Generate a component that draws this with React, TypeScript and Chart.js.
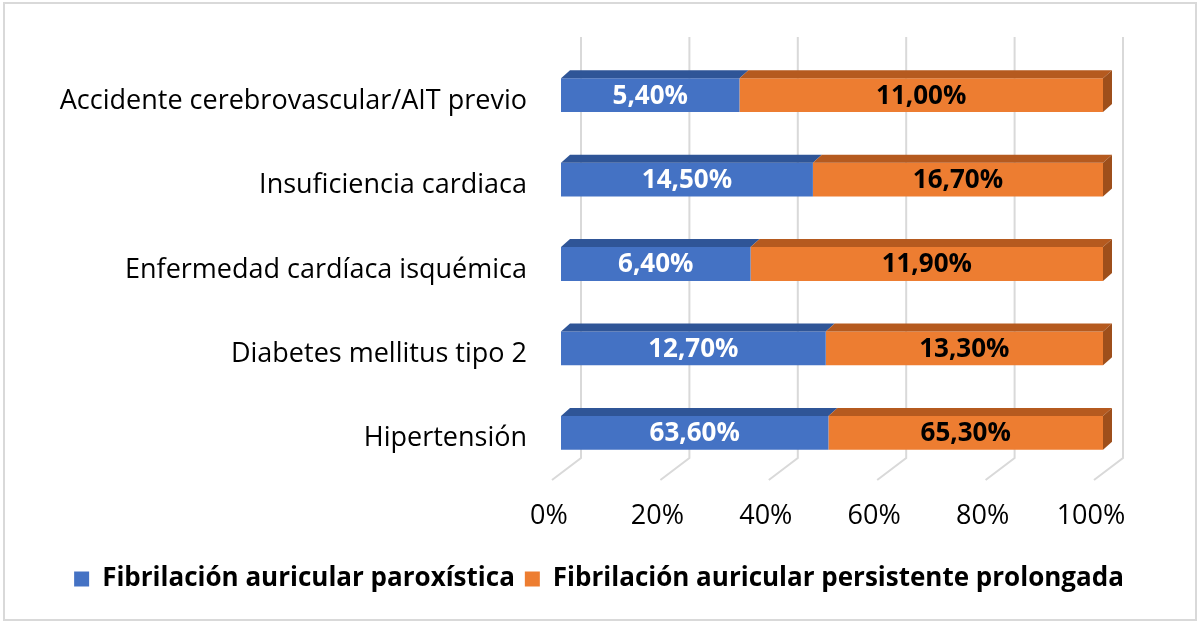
import React, { useEffect, useRef } from "react";
import { Chart, registerables } from "chart.js";

Chart.register(...registerables);

const categories = [
  "Accidente cerebrovascular/AIT previo",
  "Insuficiencia cardiaca",
  "Enfermedad cardíaca isquémica",
  "Diabetes mellitus tipo 2",
  "Hipertensión",
];
const seriesNames = [
  "Fibrilación auricular paroxística",
  "Fibrilación auricular persistente prolongada",
];
const paroxistica = [5.4, 14.5, 6.4, 12.7, 63.6];
const persistente = [11.0, 16.7, 11.9, 13.3, 65.3];
const xTickValues = [0, 20, 40, 60, 80, 100];

const FRONT_COLORS = ["#4472C4", "#ED7D31"];
const TOP_COLORS = ["#2F5597", "#B55A1F"];
const SIDE_COLOR = "#9E4F1B";
const LABEL_COLORS = ["#FFFFFF", "#000000"];
const FONT = "'Open Sans'";

const DX = 9;
const DY = 8;

const fmt = (v: number) => v.toFixed(2).replace(".", ",") + "%";

const share = (a: number[], b: number[], which: number) =>
  a.map((v, i) => ((which === 0 ? v : b[i]) / (v + b[i])) * 100);

const threeDPlugin = {
  id: "threeD",
  afterLayout(chart: any) {
    const lg = chart.legend;
    if (lg) {
      lg.left = 0;
      lg.right = 1198;
    }
  },
  beforeDatasetsDraw(chart: any) {
    const ctx = chart.ctx;
    const xs = chart.scales.x;
    const area = chart.chartArea;
    ctx.save();
    ctx.strokeStyle = "#D9D9D9";
    ctx.lineWidth = 2;
    xTickValues.forEach((v) => {
      const px = xs.getPixelForValue(v);
      const bx = px + 20;
      const topY = area.top - 16;
      const botY = area.bottom - 17;
      ctx.beginPath();
      ctx.moveTo(bx, topY);
      ctx.lineTo(bx, botY);
      ctx.lineTo(px - 9, area.bottom + 5);
      ctx.stroke();
    });
    ctx.restore();
  },
  afterDatasetsDraw(chart: any) {
    const ctx = chart.ctx;
    const n = chart.data.datasets.length;
    ctx.save();
    chart.data.datasets.forEach((ds: any, di: number) => {
      const meta = chart.getDatasetMeta(di);
      meta.data.forEach((bar: any) => {
        const { x, y, base, height } = bar.getProps(["x", "y", "base", "height"], true);
        const left = Math.min(x, base);
        const right = Math.max(x, base);
        const top = y - height / 2;
        const bottom = y + height / 2;
        ctx.fillStyle = TOP_COLORS[di];
        ctx.beginPath();
        ctx.moveTo(left, top);
        ctx.lineTo(right, top);
        ctx.lineTo(right + DX, top - DY);
        ctx.lineTo(left + DX, top - DY);
        ctx.closePath();
        ctx.fill();
        if (di === n - 1) {
          ctx.fillStyle = SIDE_COLOR;
          ctx.beginPath();
          ctx.moveTo(right, top);
          ctx.lineTo(right + DX, top - DY);
          ctx.lineTo(right + DX, bottom - DY);
          ctx.lineTo(right, bottom);
          ctx.closePath();
          ctx.fill();
        }
      });
    });
    ctx.textAlign = "center";
    ctx.textBaseline = "middle";
    ctx.font = `bold 26px ${FONT}`;
    chart.data.datasets.forEach((ds: any, di: number) => {
      const meta = chart.getDatasetMeta(di);
      meta.data.forEach((bar: any, i: number) => {
        const { x, y, base } = bar.getProps(["x", "y", "base"], true);
        ctx.fillStyle = LABEL_COLORS[di];
        ctx.fillText(fmt(ds.raw[i]), (x + base) / 2, y + 1);
      });
    });
    ctx.restore();
  },
  afterDraw(chart: any) {
    const ctx = chart.ctx;
    ctx.save();
    ctx.strokeStyle = "#D9D9D9";
    ctx.lineWidth = 2;
    ctx.strokeRect(4, 3, 1192, 617);
    ctx.restore();
  },
};

export default function App() {
  const ref = useRef<HTMLCanvasElement | null>(null);
  useEffect(() => {
    if (!ref.current) return;
    const chart = new Chart(ref.current, {
      type: "bar",
      data: {
        labels: categories,
        datasets: [
          {
            label: seriesNames[0],
            data: share(paroxistica, persistente, 0),
            raw: paroxistica,
            backgroundColor: FRONT_COLORS[0],
            barPercentage: 0.4,
            categoryPercentage: 1,
          } as any,
          {
            label: seriesNames[1],
            data: share(paroxistica, persistente, 1),
            raw: persistente,
            backgroundColor: FRONT_COLORS[1],
            barPercentage: 0.4,
            categoryPercentage: 1,
          } as any,
        ],
      },
      options: {
        indexAxis: "y",
        animation: false,
        responsive: false,
        maintainAspectRatio: false,
        layout: { padding: { top: 53, right: 97, left: 0, bottom: 22 } },
        scales: {
          x: {
            stacked: true,
            min: 0,
            max: 100,
            grid: { display: false, drawTicks: false },
            border: { display: false },
            afterBuildTicks: (scale: any) => {
              scale.ticks = xTickValues.map((v) => ({ value: v }));
            },
            afterFit: (scale: any) => {
              scale.height = 81;
            },
            ticks: {
              padding: 25,
              labelOffset: -12,
              color: "#000000",
              font: { family: FONT, size: 27 },
              callback: (v: any) => v + "%",
            },
          },
          y: {
            stacked: true,
            grid: { display: false, drawTicks: false },
            border: { display: false },
            afterFit: (scale: any) => {
              scale.width = 561;
            },
            ticks: {
              padding: 34,
              labelOffset: 6,
              color: "#000000",
              font: { family: FONT, size: 27 },
            },
          },
        },
        plugins: {
          legend: {
            position: "bottom",
            labels: {
              boxWidth: 15,
              boxHeight: 15,
              padding: 10,
              color: "#000000",
              font: { family: FONT, size: 26, weight: "bold" },
            },
          },
          tooltip: { enabled: false },
        },
      },
      plugins: [threeDPlugin],
    });
    return () => chart.destroy();
  }, []);
  return (
    <div style={{ position: "fixed", left: 0, top: 0, width: 1200, height: 624, background: "#fff" }}>
      <canvas ref={ref} width={1200} height={624} style={{ width: 1200, height: 624 }} />
    </div>
  );
}
